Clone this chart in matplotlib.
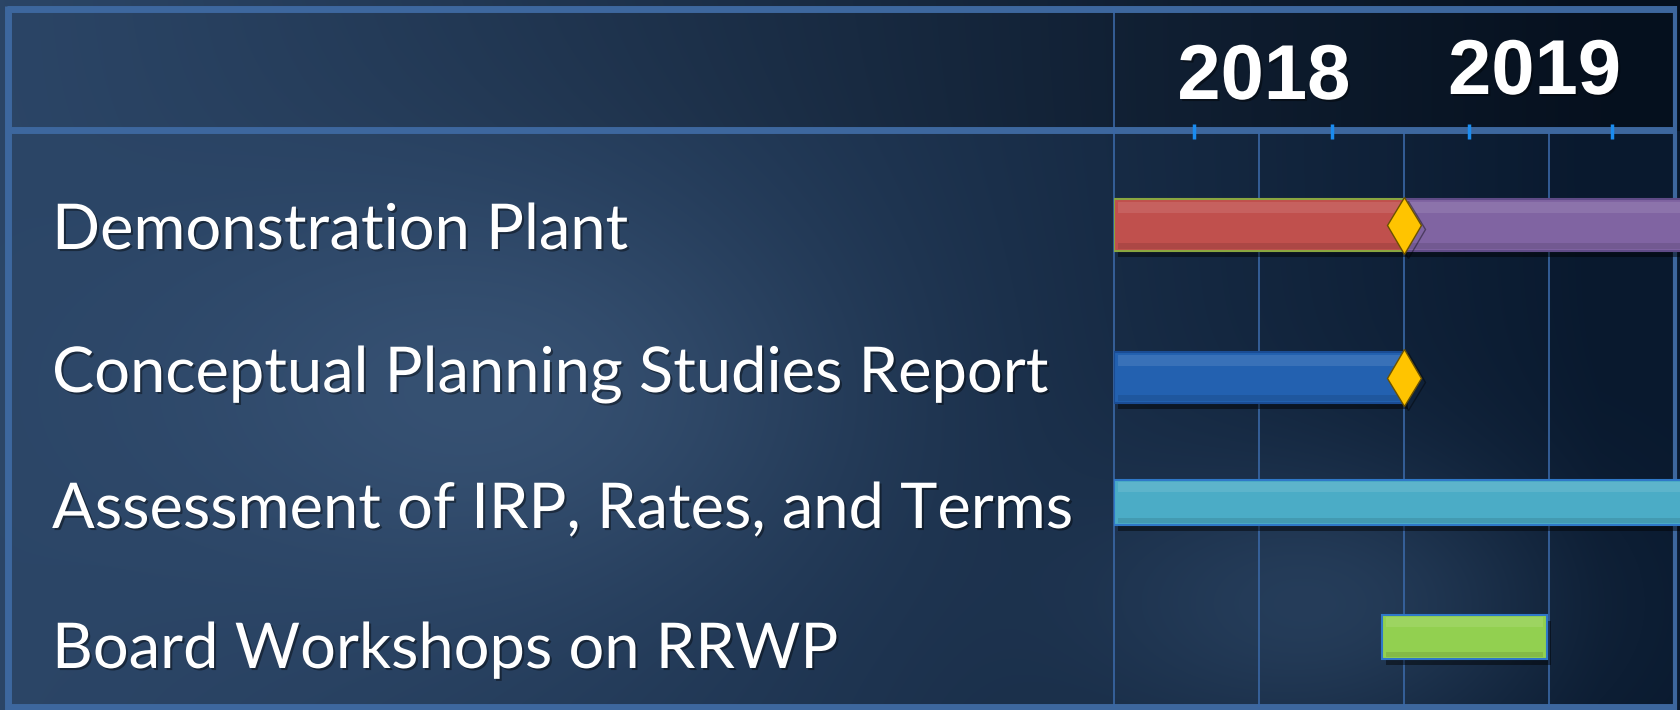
import matplotlib.pyplot as plt
import matplotlib.patheffects as pe
import matplotlib.transforms as mtransforms
import numpy as np

# rows, top to bottom
tasks = ['Demonstration Plant', 'Conceptual Planning Studies Report',
         'Assessment of IRP, Rates, and Terms', 'Board Workshops on RRWP']

# bar segments, months counted from Jan 2018
seg_row = [0, 0, 1, 2, 3]
seg_start = [0, 12, 0, 0, 11.1]
seg_end = [12, 24, 12, 24, 17.9]
seg_colour = ['#c0504d', '#8064a2', '#2361b0', '#4bacc6', '#92d050']
seg_edge = ['#8aa640', '#5f4b86', '#1a4c94', '#2f78c8', '#2f78c8']

milestone_row = [0, 1]
milestone_month = [12, 12]

years = ['2018', '2019']
year_month = [6.2, 17.4]
grid_month = [0, 6, 12, 18]
tick_month = [3.3, 9.0, 14.7, 20.6]

# layout (pixels / row units)
row_y = [0.0, 1.11, 2.02, 3.0]
row_h = [0.38, 0.37, 0.33, 0.32]
label_base = [249, 392, 528, 668]
year_base = [99, 94]

W, H = 1680, 710
frame_col = '#3d679e'
grid_col = '#3a68a6'

fig = plt.figure(figsize=(W / 100, H / 100), dpi=100)

#-- background --#
bg = fig.add_axes([0, 0, 1, 1])
yy, xx = np.mgrid[0:H, 0:W]
xn = xx / W
yn = yy / H
c_left = np.array([0x2b, 0x45, 0x66]) / 255
c_right = np.array([0x09, 0x19, 0x2e]) / 255
t = np.clip(xn * 1.05, 0, 1) ** 1.4
img = c_left * (1 - t[..., None]) + c_right * t[..., None]
blob = np.exp(-(((xn - 0.32) / 0.2) ** 2 + ((yn - 0.55) / 0.3) ** 2))
img += blob[..., None] * np.array([0.07, 0.08, 0.09])
blob2 = np.exp(-(((xn - 0.80) / 0.14) ** 2 + ((yn - 0.85) / 0.2) ** 2))
img += blob2[..., None] * np.array([0.08, 0.10, 0.12])
head = (yy < 131)
img[head] *= (1 - 0.35 * xn[head])[:, None]
img = np.clip(img, 0, 1)
bg.imshow(img, extent=(0, W, H, 0), aspect='auto', zorder=0)
bg.set_xlim(0, W)
bg.set_ylim(H, 0)
bg.axis('off')

# frame
bg.plot([7, 1675], [8.5, 8.5], color=frame_col, lw=5, solid_capstyle='butt', zorder=2)
bg.plot([7, 1675], [129.5, 129.5], color=frame_col, lw=5, solid_capstyle='butt', zorder=2)
bg.plot([7, 1675], [707, 707], color=frame_col, lw=5, solid_capstyle='butt', zorder=2)
bg.plot([8, 8], [6, 710], color=frame_col, lw=5, solid_capstyle='butt', zorder=2)
bg.plot([1674.5, 1674.5], [6, 710], color=frame_col, lw=3, solid_capstyle='butt', zorder=2)

#-- chart body --#
ax = fig.add_axes([1114 / W, 3 / H, (W - 1114) / W, (707 - 132) / H])
ax.set_xlim(0, (W - 1114) / 24.17)
ax.set_ylim(3.51, -0.68)
ax.patch.set_alpha(0)
ax.axis('off')

ax.vlines(grid_month[1:], 0, 1, transform=ax.get_xaxis_transform(),
          color=grid_col, lw=1.2, zorder=1)
ax.vlines(grid_month[:1], 0, 1.215, transform=ax.get_xaxis_transform(),
          color=grid_col, lw=1.2, zorder=1, clip_on=False)
ax.vlines(tick_month, 0.988, 1.014, transform=ax.get_xaxis_transform(),
          color='#1a8cf0', lw=2.5, zorder=3, clip_on=False)

shadow = [pe.SimplePatchShadow(offset=(3, -4), shadow_rgbFace='black', alpha=0.45), pe.Normal()]
for r, s, e, c, ec in zip(seg_row, seg_start, seg_end, seg_colour, seg_edge):
    y = row_y[r]
    h = row_h[r]
    ax.barh(y, e - s, left=s, height=h, color=c, edgecolor=ec, lw=1.5,
            zorder=4, path_effects=shadow)
    # bevel highlight / shade
    ax.barh(y - h * 0.34, e - s - 0.3, left=s + 0.15, height=h * 0.22,
            color='white', alpha=0.10, lw=0, zorder=5)
    ax.barh(y + h * 0.40, e - s - 0.3, left=s + 0.15, height=h * 0.12,
            color='black', alpha=0.10, lw=0, zorder=5)

ax.plot(milestone_month, [row_y[r] for r in milestone_row], linestyle='none',
        marker='d', markersize=29, markerfacecolor='#ffc400',
        markeredgecolor='#6b5200', markeredgewidth=1.0, zorder=6,
        path_effects=[pe.SimpleLineShadow(offset=(3, -3), alpha=0.4), pe.Normal()])

#-- text --#
txt_shadow = [pe.withSimplePatchShadow(offset=(1.5, -1.5), shadow_rgbFace='black', alpha=0.4)]
for name, yb in zip(tasks, label_base):
    bg.text(52, yb, name, color='white', fontsize=45.5, family='Lato',
            ha='left', va='baseline', zorder=7, path_effects=txt_shadow)

yr_trans = mtransforms.blended_transform_factory(ax.transData, bg.transData)
for yr, m, yb in zip(years, year_month, year_base):
    bg.text(m, yb, yr, transform=yr_trans, color='white', fontsize=56,
            fontweight='bold', family='Liberation Sans', ha='center',
            va='baseline', zorder=7, path_effects=txt_shadow)

fig.savefig('out.png', dpi=100)
